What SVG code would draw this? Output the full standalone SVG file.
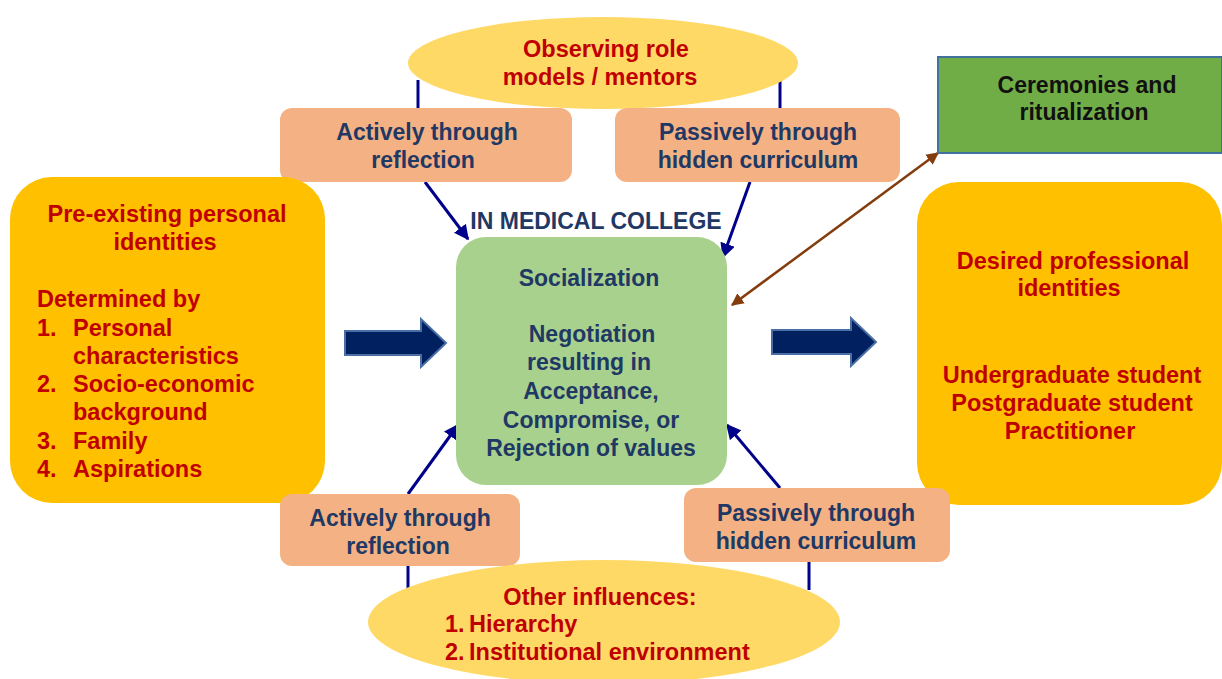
<svg xmlns="http://www.w3.org/2000/svg" width="1222" height="679" viewBox="0 0 1222 679">
<defs>
<style>
.t{font-family:"Liberation Sans",Arial,sans-serif;font-weight:bold;}
.red{fill:#c00000;font-size:23.5px;}
.navy{fill:#1f3864;font-size:23px;}
.pk{fill:#f4b183;}
.ell{fill:#ffd966;}
.org{fill:#ffc000;}
.ln{stroke:#00008b;stroke-width:3;fill:none;}
.blk{fill:#002060;stroke:#4a6fa5;stroke-width:2;}
</style>
<marker id="ah" viewBox="0 0 10 10" refX="9" refY="5" markerWidth="5" markerHeight="5" orient="auto-start-reverse" markerUnits="strokeWidth"><path d="M0,0 L10,5 L0,10 z" fill="#00008b"/></marker>
<marker id="bh" viewBox="0 0 10 10" refX="9" refY="5" markerWidth="5" markerHeight="5" orient="auto-start-reverse" markerUnits="strokeWidth"><path d="M0,0 L10,5 L0,10 z" fill="#843c0c"/></marker>
</defs>
<rect width="1222" height="679" fill="#ffffff"/>

<g id="connectors">
<line class="ln" x1="418" y1="80" x2="418" y2="110"/>
<line class="ln" x1="780" y1="80" x2="780" y2="110"/>
<line class="ln" x1="408" y1="566" x2="408" y2="590"/>
<line class="ln" x1="809" y1="562" x2="809" y2="590"/>
<line class="ln" x1="425" y1="182" x2="468" y2="239" marker-end="url(#ah)"/>
<line class="ln" x1="750" y1="182" x2="723" y2="257" marker-end="url(#ah)"/>
<line class="ln" x1="408" y1="494" x2="458" y2="425" marker-end="url(#ah)"/>
<line class="ln" x1="780" y1="488" x2="727" y2="425" marker-end="url(#ah)"/>
<line x1="732" y1="305" x2="938" y2="153" stroke="#843c0c" stroke-width="2.5" marker-start="url(#bh)" marker-end="url(#bh)"/>
<polygon class="blk" points="345,331 421,331 421,319 446,343 421,367 421,355 345,355"/>
<polygon class="blk" points="772,330 851,330 851,318 876,342 851,366 851,354 772,354"/>
</g>

<g id="top-ellipse">
<ellipse class="ell" cx="603" cy="63" rx="195" ry="46"/>
<text class="t red" text-anchor="middle" x="606" y="57" font-size="22.5">Observing role</text>
<text class="t red" text-anchor="middle" x="600" y="85" font-size="22.5">models / mentors</text>
</g>

<g id="top-left-box">
<rect class="pk" x="280" y="108" width="292" height="74" rx="12"/>
<text class="t navy" text-anchor="middle" x="427" y="140">Actively through</text>
<text class="t navy" text-anchor="middle" x="423" y="168">reflection</text>
</g>

<g id="top-right-box">
<rect class="pk" x="615" y="108" width="285" height="74" rx="12"/>
<text class="t navy" text-anchor="middle" x="758" y="140">Passively through</text>
<text class="t navy" text-anchor="middle" x="758" y="168">hidden curriculum</text>
</g>

<g id="label-college">
<text class="t" fill="#1f3864" font-size="23" text-anchor="middle" x="596" y="229">IN MEDICAL COLLEGE</text>
</g>

<g id="center-box">
<rect x="456" y="237" width="271" height="248" rx="30" fill="#a9d18e"/>
<text class="t navy" text-anchor="middle" x="589" y="286">Socialization</text>
<text class="t navy" text-anchor="middle" x="592" y="342">Negotiation</text>
<text class="t navy" text-anchor="middle" x="589" y="370">resulting in</text>
<text class="t navy" text-anchor="middle" x="591" y="399">Acceptance,</text>
<text class="t navy" text-anchor="middle" x="591" y="428">Compromise, or</text>
<text class="t navy" text-anchor="middle" x="591" y="456">Rejection of values</text>
</g>

<g id="left-box">
<rect class="org" x="10" y="177" width="315" height="326" rx="42"/>
<text class="t red" text-anchor="middle" x="167" y="222">Pre-existing personal</text>
<text class="t red" text-anchor="middle" x="165" y="250">identities</text>
<text class="t red" x="37" y="307">Determined by</text>
<text class="t red" x="37" y="336">1.</text><text class="t red" x="73" y="336">Personal</text>
<text class="t red" x="73" y="364">characteristics</text>
<text class="t red" x="37" y="392">2.</text><text class="t red" x="73" y="392">Socio-economic</text>
<text class="t red" x="73" y="420">background</text>
<text class="t red" x="37" y="449">3.</text><text class="t red" x="73" y="449">Family</text>
<text class="t red" x="37" y="477">4.</text><text class="t red" x="73" y="477">Aspirations</text>
</g>

<g id="ceremonies-box">
<rect x="938" y="57" width="284" height="96" fill="#70ad47" stroke="#41719c" stroke-width="2"/>
<text class="t" fill="#111111" font-size="23" text-anchor="middle" x="1087" y="93">Ceremonies and</text>
<text class="t" fill="#111111" font-size="23" text-anchor="middle" x="1084" y="120">ritualization</text>
</g>

<g id="right-box">
<rect class="org" x="917" y="182" width="305" height="323" rx="42"/>
<text class="t red" text-anchor="middle" x="1073" y="269">Desired professional</text>
<text class="t red" text-anchor="middle" x="1069" y="296">identities</text>
<text class="t red" text-anchor="middle" x="1072" y="383">Undergraduate student</text>
<text class="t red" text-anchor="middle" x="1072" y="411">Postgraduate student</text>
<text class="t red" text-anchor="middle" x="1070" y="439">Practitioner</text>
</g>

<g id="bottom-left-box">
<rect class="pk" x="280" y="494" width="240" height="72" rx="12"/>
<text class="t navy" text-anchor="middle" x="400" y="526">Actively through</text>
<text class="t navy" text-anchor="middle" x="398" y="554">reflection</text>
</g>

<g id="bottom-right-box">
<rect class="pk" x="684" y="488" width="266" height="74" rx="12"/>
<text class="t navy" text-anchor="middle" x="816" y="521">Passively through</text>
<text class="t navy" text-anchor="middle" x="816" y="549">hidden curriculum</text>
</g>

<g id="bottom-ellipse">
<ellipse class="ell" cx="604" cy="622" rx="236" ry="62"/>
<text class="t red" text-anchor="middle" x="600" y="605" font-size="22.5">Other influences:</text>
<text class="t red" x="445" y="632" font-size="22.5">1.</text><text class="t red" x="469" y="632" font-size="22.5">Hierarchy</text>
<text class="t red" x="445" y="660" font-size="22.5">2.</text><text class="t red" x="469" y="660" font-size="22.5">Institutional environment</text>
</g>
</svg>
